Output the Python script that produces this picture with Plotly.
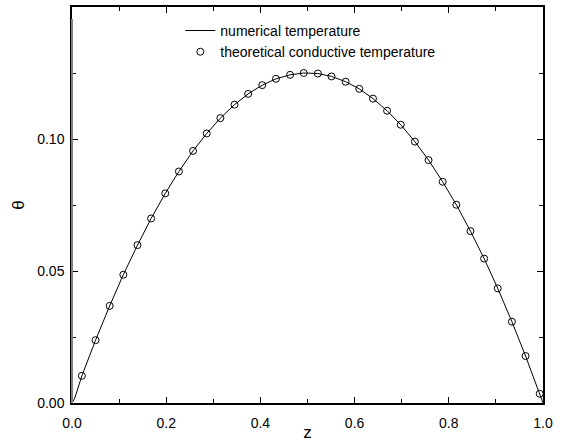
import plotly.graph_objects as go

# theoretical conductive temperature (markers)
z_theory = [0.021, 0.050, 0.080, 0.109, 0.139, 0.168, 0.198, 0.227, 0.257, 0.286,
            0.315, 0.345, 0.374, 0.404, 0.433, 0.463, 0.492, 0.522, 0.551, 0.581,
            0.610, 0.639, 0.669, 0.698, 0.728, 0.757, 0.787, 0.816, 0.846, 0.875,
            0.904, 0.934, 0.963, 0.993]
theta_theory = [0.0103, 0.0238, 0.0368, 0.0486, 0.0598, 0.0699, 0.0794, 0.0877, 0.0955, 0.1021,
                0.1079, 0.1130, 0.1171, 0.1204, 0.1228, 0.1243, 0.1250, 0.1248, 0.1237, 0.1217,
                0.1190, 0.1153, 0.1107, 0.1054, 0.0990, 0.0920, 0.0838, 0.0751, 0.0651, 0.0547,
                0.0434, 0.0308, 0.0178, 0.0035]

# numerical temperature (line)
z_num = [0.0, 0.006] + z_theory + [1.0]
theta_num = [0.0, 0.0019] + theta_theory + [0.0]

x_ticks = [0.0, 0.2, 0.4, 0.6, 0.8, 1.0]
y_ticks = [0.00, 0.05, 0.10]

fig = go.Figure()
fig.add_trace(go.Scatter(
    x=z_num, y=theta_num, mode="lines", name="numerical temperature",
    line=dict(color="black", width=1)))
fig.add_trace(go.Scatter(
    x=z_theory, y=theta_theory, mode="markers", name="theoretical conductive temperature",
    marker=dict(symbol="circle-open", size=7, color="black", line=dict(width=1))))

font = "Liberation Sans, Arial, Helvetica, sans-serif"
fig.update_layout(
    width=563, height=442,
    margin=dict(l=72, r=20, t=7, b=39),
    paper_bgcolor="white", plot_bgcolor="white",
    font=dict(family=font, size=14, color="black"),
    showlegend=True,
    legend=dict(x=0.23, y=0.98, xanchor="left", yanchor="top",
                bgcolor="rgba(0,0,0,0)", font=dict(size=14),
                itemwidth=30, tracegroupgap=0),
    xaxis=dict(range=[0, 1], tickvals=x_ticks, ticktext=[f"{v:.1f}" for v in x_ticks],
               ticks="inside", ticklen=6, tickwidth=1, tickcolor="black",
               ticklabelstandoff=6, automargin=False,
               minor=dict(dtick=0.1, ticks="inside", ticklen=4, tickcolor="black"),
               showline=True, linecolor="black", linewidth=1.5, mirror="allticks",
               showgrid=False, zeroline=False,
               title=dict(text="z", standoff=1)),
    yaxis=dict(range=[0, 0.15], tickvals=y_ticks, ticktext=[f"{v:.2f}" for v in y_ticks],
               ticks="inside", ticklen=6, tickwidth=1, tickcolor="black",
               ticklabelstandoff=3, automargin=False,
               minor=dict(dtick=0.025, ticks="inside", ticklen=4, tickcolor="black"),
               showline=True, linecolor="black", linewidth=1.5, mirror="allticks",
               showgrid=False, zeroline=False,
               title=dict(text="θ", standoff=8)),
)
# left border of the frame is drawn in grey in the reference
fig.add_shape(type="line", xref="paper", yref="paper", x0=0, x1=0, y0=0, y1=0.97,
              line=dict(color="#808080", width=2), layer="above")

fig.write_html("out.html")
